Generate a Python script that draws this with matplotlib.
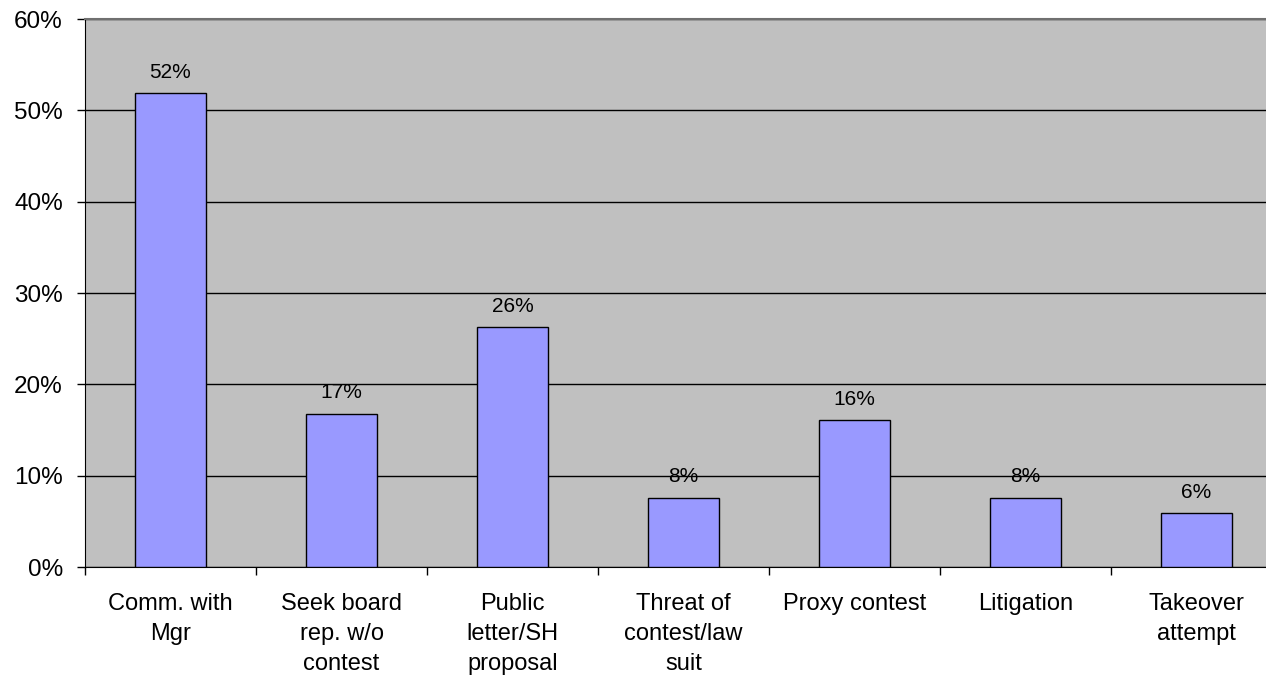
import matplotlib
matplotlib.use("Agg")
import matplotlib.pyplot as plt
import numpy as np

categories = ["Comm. with\nMgr", "Seek board\nrep. w/o\ncontest", "Public\nletter/SH\nproposal",
              "Threat of\ncontest/law\nsuit", "Proxy contest", "Litigation", "Takeover\nattempt"]
values = [51.9, 16.8, 26.3, 7.6, 16.1, 7.6, 5.9]
value_labels = ["52%", "17%", "26%", "8%", "16%", "8%", "6%"]
yticks = [0, 10, 20, 30, 40, 50, 60]
ytick_labels = ["0%", "10%", "20%", "30%", "40%", "50%", "60%"]

plt.rcParams['font.family'] = ['Liberation Sans', 'DejaVu Sans']

fig = plt.figure(figsize=(12.66, 6.79), dpi=100)
ax = fig.add_axes([85/1266, (679-567)/679, 1197/1266, 548/679])
ax.set_facecolor("#C0C0C0")

x = np.arange(len(categories))
ax.bar(x, values, width=0.41, color="#9999FF", edgecolor="black", linewidth=1, zorder=3)
for xi, v, lab in zip(x, values, value_labels):
    ax.annotate(lab, (xi, v), xytext=(0, 8), textcoords="offset points",
                ha="center", va="bottom", fontsize=15, zorder=4)

ax.set_xlim(-0.5, len(categories) - 0.5)
ax.set_ylim(0, 60)
ax.set_yticks(yticks)
ax.set_yticklabels(ytick_labels, fontsize=17.5)
ax.yaxis.grid(True, color="black", linewidth=1, zorder=1)
ax.set_axisbelow(True)

ax.set_xticks(np.arange(-0.5, len(categories), 1.0))
ax.set_xticklabels([])
ax.set_xticks(x, minor=True)
ax.set_xticklabels(categories, minor=True, fontsize=17, linespacing=1.46, va="top")
ax.tick_params(axis="x", which="minor", length=0, pad=19)
ax.tick_params(axis="x", which="major", length=6, width=1, direction="out")
ax.tick_params(axis="y", length=6, width=1, direction="out", pad=10)

ax.spines["left"].set_color("black")
ax.spines["bottom"].set_color("black")
ax.spines["top"].set_color("#707070")
ax.spines["top"].set_linewidth(1.5)
ax.spines["right"].set_visible(False)

fig.savefig("out.png", dpi=100)
